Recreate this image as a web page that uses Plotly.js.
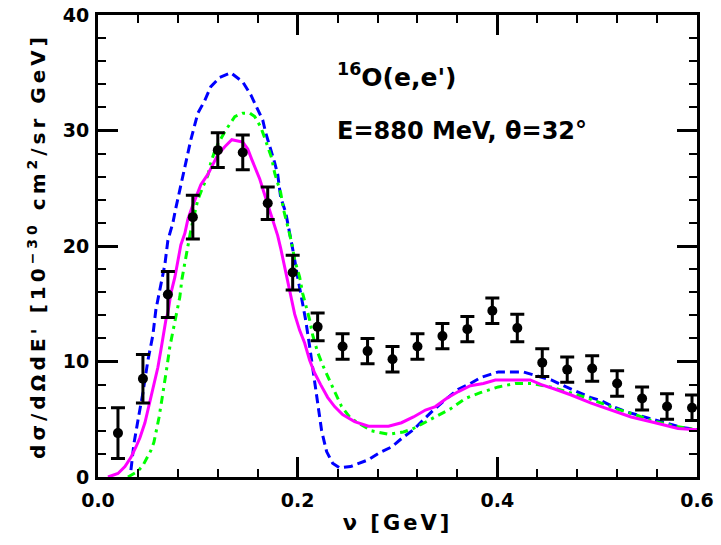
<!DOCTYPE html>
<html>
<head>
<meta charset="utf-8">
<script src="https://cdn.plot.ly/plotly-3.0.1.min.js"></script>
<style>
html,body{margin:0;padding:0;background:#fff;}
#chart{width:721px;height:545px;}
.g-ytitle text{letter-spacing:4px;}
.g-xtitle text{letter-spacing:3px;}
</style>
</head>
<body>
<div id="chart"></div>
<script>
// Experimental data: 16O(e,e'), E=880 MeV, theta=32 deg
const nuData = [0.02,0.045,0.07,0.095,0.12,0.145,0.17,0.195,0.22,0.245,0.27,0.295,0.32,0.345,0.37,0.395,0.42,0.445,0.47,0.495,0.52,0.545,0.57,0.595];
const sigmaData = [3.8,8.5,15.8,22.5,28.3,28.1,23.7,17.7,13.0,11.3,10.9,10.2,11.3,12.2,12.8,14.4,12.9,9.9,9.3,9.4,8.1,6.8,6.1,6.0];
const sigmaErr = [2.2,2.1,2.0,1.9,1.5,1.5,1.4,1.5,1.2,1.1,1.1,1.1,1.1,1.1,1.1,1.1,1.2,1.2,1.1,1.1,1.1,1.0,1.1,1.1];

// Blue dashed curve
const nuBlue = [0.033,0.036,0.040,0.045,0.050,0.055,0.058,0.062,0.067,0.070,0.075,0.078,0.083,0.087,0.093,0.100,0.107,0.113,0.122,0.133,0.145,0.153,0.160,0.165,0.168,0.172,0.177,0.180,0.183,0.188,0.192,0.196,0.200,0.204,0.208,0.212,0.216,0.220,0.224,0.229,0.235,0.242,0.253,0.271,0.282,0.294,0.305,0.316,0.328,0.336,0.348,0.361,0.373,0.383,0.401,0.426,0.438,0.454,0.469,0.479,0.493,0.504,0.516,0.531,0.548,0.568,0.584,0.600];
const sigBlue = [0.6,2.9,4.9,7.3,10.1,12.3,14.5,16.2,18.4,20.5,22.0,23.3,25.3,26.6,29.2,31.5,32.6,33.8,34.6,35.0,34.2,33.1,31.9,30.9,29.8,28.7,27.2,26.2,24.2,22.9,21.2,19.3,17.3,15.5,13.6,11.3,8.8,6.3,4.0,2.2,1.2,0.8,0.9,1.5,2.1,2.6,3.4,4.1,5.1,5.8,6.7,7.6,8.1,8.6,9.1,9.1,8.8,8.4,7.8,7.4,6.9,6.6,6.1,5.6,5.2,4.7,4.3,4.1];

// Green dash-dot curve
const nuGreen = [0.030,0.040,0.045,0.049,0.053,0.056,0.058,0.061,0.064,0.067,0.069,0.072,0.075,0.078,0.082,0.084,0.087,0.090,0.093,0.097,0.100,0.105,0.110,0.113,0.118,0.127,0.132,0.137,0.145,0.152,0.157,0.163,0.166,0.169,0.174,0.177,0.183,0.186,0.190,0.194,0.197,0.202,0.205,0.209,0.212,0.215,0.220,0.225,0.230,0.237,0.244,0.252,0.260,0.274,0.291,0.306,0.316,0.329,0.339,0.353,0.368,0.383,0.401,0.418,0.434,0.453,0.469,0.488,0.504,0.519,0.538,0.554,0.578,0.600];
const sigGreen = [0.0,0.5,1.0,1.7,2.3,3.0,3.8,5.1,6.7,8.2,9.5,11.3,12.6,14.0,15.6,17.1,18.5,19.9,21.4,22.9,24.0,25.1,26.1,27.2,28.5,29.9,30.6,31.2,31.5,31.5,31.2,30.3,29.6,28.9,27.6,26.3,24.6,23.1,21.6,20.3,18.8,17.3,15.9,14.7,13.6,12.3,10.8,9.7,8.7,7.4,6.1,5.2,4.7,4.0,3.7,3.9,4.2,4.8,5.2,5.9,6.8,7.3,7.8,8.1,8.1,7.8,7.4,6.9,6.4,5.9,5.4,4.9,4.4,4.1];

// Magenta solid curve
const nuMag = [0.010,0.020,0.027,0.033,0.038,0.042,0.047,0.050,0.053,0.057,0.060,0.063,0.065,0.068,0.070,0.073,0.077,0.080,0.083,0.087,0.090,0.094,0.098,0.103,0.110,0.115,0.120,0.127,0.134,0.145,0.150,0.154,0.158,0.162,0.166,0.170,0.175,0.180,0.183,0.186,0.189,0.193,0.197,0.202,0.207,0.212,0.217,0.223,0.230,0.237,0.245,0.257,0.271,0.291,0.304,0.316,0.328,0.338,0.349,0.361,0.373,0.386,0.398,0.433,0.444,0.458,0.474,0.494,0.514,0.534,0.558,0.581,0.600];
const sigMag = [0.0,0.3,0.9,1.7,2.6,3.4,4.7,5.8,6.9,8.2,9.5,11.0,12.1,13.6,14.2,15.9,17.3,18.8,20.1,21.1,22.3,23.3,24.2,25.3,26.2,27.0,27.9,28.6,29.2,29.0,28.4,27.5,26.7,25.8,24.7,23.6,22.4,20.9,19.8,18.6,17.3,15.9,14.1,12.7,11.6,10.1,9.0,8.0,6.9,6.1,5.4,4.8,4.4,4.4,4.7,5.2,5.8,6.1,6.8,7.4,7.9,8.1,8.4,8.4,8.0,7.6,7.1,6.4,5.8,5.2,4.7,4.2,4.1];

const xTickVals = [0.0,0.2,0.4,0.6];
const xTickText = ['0.0','0.2','0.4','0.6'];
const yTickVals = [0,10,20,30,40];
const yTickText = ['0','10','20','30','40'];

const FONT = 'DejaVu Sans, sans-serif';

const traces = [
  {x: nuBlue, y: sigBlue, mode:'lines', line:{color:'#0000ff', width:3, dash:'9px,5px'}, hoverinfo:'skip'},
  {x: nuGreen, y: sigGreen, mode:'lines', line:{color:'#00ff00', width:3, dash:'8px,5px,3px,5px'}, hoverinfo:'skip'},
  {x: nuMag, y: sigMag, mode:'lines', line:{color:'#ff00ff', width:3}, hoverinfo:'skip'},
  {x: nuData, y: sigmaData, mode:'markers', marker:{color:'#000', size:10, symbol:'circle'},
   error_y:{type:'data', array:sigmaErr, visible:true, color:'#000', thickness:3, width:7}}
];

const axisCommon = {
  showline:true, linecolor:'#000', linewidth:3, mirror:'allticks',
  ticks:'inside', ticklen:20, tickwidth:3, tickcolor:'#000',
  showgrid:false, zeroline:false,
  tickfont:{family:FONT, size:19, color:'#000', weight:'bold'}
};

const layout = {
  width:721, height:545,
  margin:{l:98, r:24, t:15, b:68},
  paper_bgcolor:'#fff', plot_bgcolor:'#fff',
  showlegend:false,
  xaxis: Object.assign({}, axisCommon, {
    range:[0,0.6], tickvals:xTickVals, ticktext:xTickText, ticklabelstandoff:4,
    minor:{dtick:0.04, ticks:'inside', ticklen:8, tickwidth:2, tickcolor:'#000'},
    title:{text:'ν [GeV]', font:{family:FONT, size:21, color:'#000', weight:'bold'}, standoff:6}
  }),
  yaxis: Object.assign({}, axisCommon, {
    range:[0,40], tickvals:yTickVals, ticktext:yTickText, ticklabelstandoff:2,
    minor:{dtick:2, ticks:'inside', ticklen:8, tickwidth:2, tickcolor:'#000'},
    title:{text:"dσ/dΩdE' [10<sup>−30</sup> cm<sup>2</sup>/sr GeV]", font:{family:FONT, size:20, color:'#000', weight:'bold'}, standoff:12}
  }),
  annotations:[
    {xref:'x', yref:'y', x:0.237, y:34.8, xanchor:'left', yanchor:'middle', showarrow:false,
     text:"<sup>16</sup>O(e,e')", font:{family:FONT, size:25, color:'#000', weight:'bold'}},
    {xref:'x', yref:'y', x:0.237, y:30.0, xanchor:'left', yanchor:'middle', showarrow:false,
     text:'E=880 MeV, θ=32°', font:{family:FONT, size:24, color:'#000', weight:'bold'}}
  ]
};

Plotly.newPlot('chart', traces, layout, {staticPlot:true, displayModeBar:false});
</script>
</body>
</html>
